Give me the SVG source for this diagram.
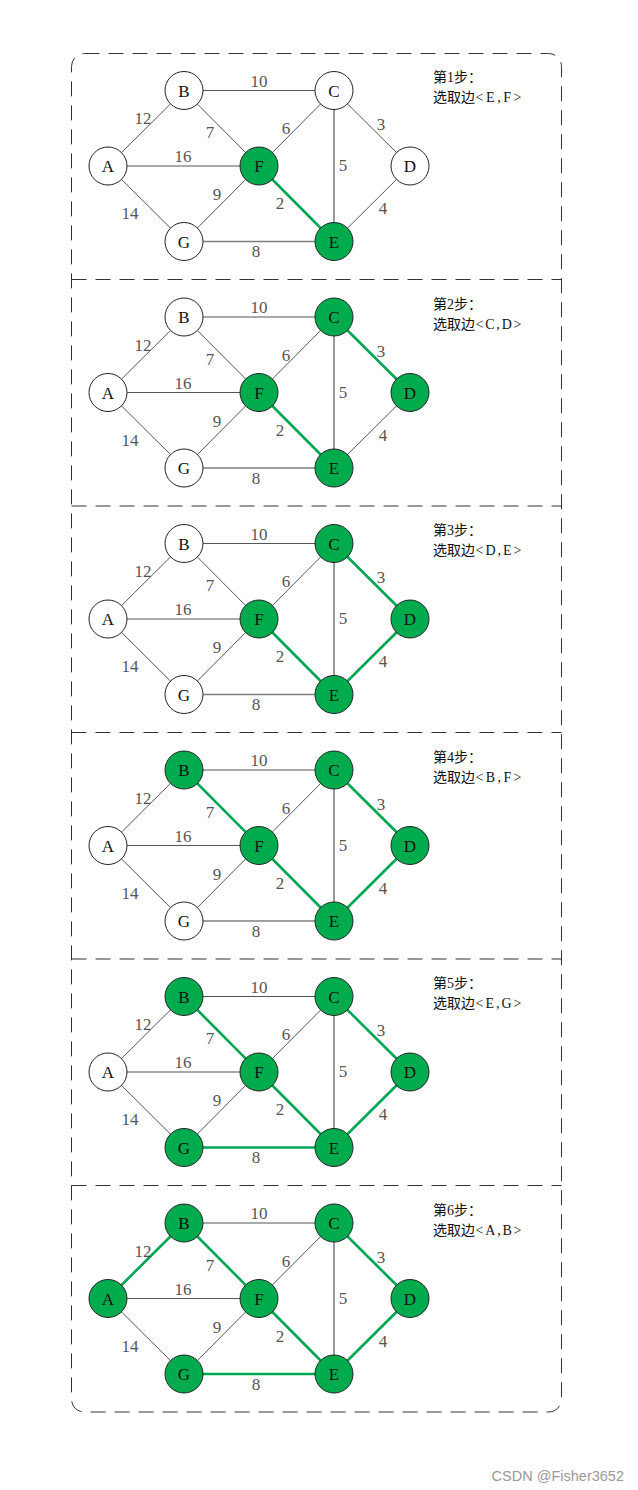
<svg xmlns="http://www.w3.org/2000/svg" width="638" height="1490" viewBox="0 0 638 1490">
<style>
.e{stroke:#555;stroke-width:1;fill:none}
.e2{stroke:#808080;stroke-width:1.6;fill:none}
.g{stroke:#00a651;stroke-width:2.6;fill:none}
.n circle{stroke:#222;stroke-width:1}
.w circle{fill:#fff}
.s circle{fill:#00ab4e}
.n text{font-family:"Liberation Serif",serif;font-size:17px;fill:#111;text-anchor:middle}
.lb{font-family:"Liberation Serif",serif;font-size:17px;fill:#555;text-anchor:middle}
.st{font-family:"Liberation Serif","Noto Sans CJK SC",serif;font-size:14px;fill:#111}
.dash{stroke:#333;stroke-width:1;stroke-dasharray:15 9;fill:none}
</style>
<g id="frame">
<rect class="dash" x="71.5" y="53.5" width="490" height="1358.5" rx="13" ry="13"/>
<line class="dash" x1="71.5" y1="279.5" x2="561.5" y2="279.5"/>
<line class="dash" x1="71.5" y1="506" x2="561.5" y2="506"/>
<line class="dash" x1="71.5" y1="732.5" x2="561.5" y2="732.5"/>
<line class="dash" x1="71.5" y1="959" x2="561.5" y2="959"/>
<line class="dash" x1="71.5" y1="1185.5" x2="561.5" y2="1185.5"/>
</g>

<!-- Panel 1 -->
<g id="panel1">
<g id="p1-connectors">
<line class="e" x1="184" y1="90.5" x2="334" y2="90.5"/>
<line class="e" x1="108" y1="166" x2="184" y2="90.5"/>
<line class="e" x1="184" y1="90.5" x2="259" y2="166"/>
<line class="e" x1="259" y1="166" x2="334" y2="90.5"/>
<line class="e" x1="334" y1="90.5" x2="410" y2="166"/>
<line class="e" x1="108" y1="166" x2="259" y2="166"/>
<line class="e2" x1="334" y1="90.5" x2="334" y2="241.5"/>
<line class="e" x1="184" y1="241.5" x2="259" y2="166"/>
<line class="g" x1="259" y1="166" x2="334" y2="241.5"/>
<line class="e" x1="108" y1="166" x2="184" y2="241.5"/>
<line class="e" x1="410" y1="166" x2="334" y2="241.5"/>
<line class="e2" x1="184" y1="241.5" x2="334" y2="241.5"/>
<text class="lb" x="259" y="86.5">10</text><text class="lb" x="143" y="124">12</text><text class="lb" x="210" y="138">7</text><text class="lb" x="286" y="134">6</text><text class="lb" x="381" y="130">3</text><text class="lb" x="183" y="162">16</text><text class="lb" x="343" y="171">5</text><text class="lb" x="217" y="200">9</text><text class="lb" x="280" y="209">2</text><text class="lb" x="130" y="219">14</text><text class="lb" x="383" y="214">4</text><text class="lb" x="256" y="257">8</text>
</g>
<g id="p1-A" class="n w"><circle cx="108" cy="166" r="19"/><text x="108" y="172">A</text></g>
<g id="p1-B" class="n w"><circle cx="184" cy="90.5" r="19"/><text x="184" y="96.5">B</text></g>
<g id="p1-C" class="n w"><circle cx="334" cy="90.5" r="19"/><text x="334" y="96.5">C</text></g>
<g id="p1-D" class="n w"><circle cx="410" cy="166" r="19"/><text x="410" y="172">D</text></g>
<g id="p1-E" class="n s"><circle cx="334" cy="241.5" r="19"/><text x="334" y="247.5">E</text></g>
<g id="p1-F" class="n s"><circle cx="259" cy="166" r="19"/><text x="259" y="172">F</text></g>
<g id="p1-G" class="n w"><circle cx="184" cy="241.5" r="19"/><text x="184" y="247.5">G</text></g>
<text class="st" x="433" y="82">第1步：</text>
<text class="st" x="433" y="102">选取边</text><text class="st" x="475.5" y="102" textLength="46" lengthAdjust="spacing">&lt;E,F&gt;</text>
</g>

<!-- Panel 2 -->
<g id="panel2" transform="translate(0,226.5)">
<g id="p2-connectors">
<line class="e" x1="184" y1="90.5" x2="334" y2="90.5"/>
<line class="e" x1="108" y1="166" x2="184" y2="90.5"/>
<line class="e" x1="184" y1="90.5" x2="259" y2="166"/>
<line class="e" x1="259" y1="166" x2="334" y2="90.5"/>
<line class="g" x1="334" y1="90.5" x2="410" y2="166"/>
<line class="e" x1="108" y1="166" x2="259" y2="166"/>
<line class="e2" x1="334" y1="90.5" x2="334" y2="241.5"/>
<line class="e" x1="184" y1="241.5" x2="259" y2="166"/>
<line class="g" x1="259" y1="166" x2="334" y2="241.5"/>
<line class="e" x1="108" y1="166" x2="184" y2="241.5"/>
<line class="e" x1="410" y1="166" x2="334" y2="241.5"/>
<line class="e2" x1="184" y1="241.5" x2="334" y2="241.5"/>
<text class="lb" x="259" y="86.5">10</text><text class="lb" x="143" y="124">12</text><text class="lb" x="210" y="138">7</text><text class="lb" x="286" y="134">6</text><text class="lb" x="381" y="130">3</text><text class="lb" x="183" y="162">16</text><text class="lb" x="343" y="171">5</text><text class="lb" x="217" y="200">9</text><text class="lb" x="280" y="209">2</text><text class="lb" x="130" y="219">14</text><text class="lb" x="383" y="214">4</text><text class="lb" x="256" y="257">8</text>
</g>
<g id="p2-A" class="n w"><circle cx="108" cy="166" r="19"/><text x="108" y="172">A</text></g>
<g id="p2-B" class="n w"><circle cx="184" cy="90.5" r="19"/><text x="184" y="96.5">B</text></g>
<g id="p2-C" class="n s"><circle cx="334" cy="90.5" r="19"/><text x="334" y="96.5">C</text></g>
<g id="p2-D" class="n s"><circle cx="410" cy="166" r="19"/><text x="410" y="172">D</text></g>
<g id="p2-E" class="n s"><circle cx="334" cy="241.5" r="19"/><text x="334" y="247.5">E</text></g>
<g id="p2-F" class="n s"><circle cx="259" cy="166" r="19"/><text x="259" y="172">F</text></g>
<g id="p2-G" class="n w"><circle cx="184" cy="241.5" r="19"/><text x="184" y="247.5">G</text></g>
<text class="st" x="433" y="82">第2步：</text>
<text class="st" x="433" y="102">选取边</text><text class="st" x="475.5" y="102" textLength="46" lengthAdjust="spacing">&lt;C,D&gt;</text>
</g>

<!-- Panel 3 -->
<g id="panel3" transform="translate(0,453)">
<g id="p3-connectors">
<line class="e" x1="184" y1="90.5" x2="334" y2="90.5"/>
<line class="e" x1="108" y1="166" x2="184" y2="90.5"/>
<line class="e" x1="184" y1="90.5" x2="259" y2="166"/>
<line class="e" x1="259" y1="166" x2="334" y2="90.5"/>
<line class="g" x1="334" y1="90.5" x2="410" y2="166"/>
<line class="e" x1="108" y1="166" x2="259" y2="166"/>
<line class="e2" x1="334" y1="90.5" x2="334" y2="241.5"/>
<line class="e" x1="184" y1="241.5" x2="259" y2="166"/>
<line class="g" x1="259" y1="166" x2="334" y2="241.5"/>
<line class="e" x1="108" y1="166" x2="184" y2="241.5"/>
<line class="g" x1="410" y1="166" x2="334" y2="241.5"/>
<line class="e2" x1="184" y1="241.5" x2="334" y2="241.5"/>
<text class="lb" x="259" y="86.5">10</text><text class="lb" x="143" y="124">12</text><text class="lb" x="210" y="138">7</text><text class="lb" x="286" y="134">6</text><text class="lb" x="381" y="130">3</text><text class="lb" x="183" y="162">16</text><text class="lb" x="343" y="171">5</text><text class="lb" x="217" y="200">9</text><text class="lb" x="280" y="209">2</text><text class="lb" x="130" y="219">14</text><text class="lb" x="383" y="214">4</text><text class="lb" x="256" y="257">8</text>
</g>
<g id="p3-A" class="n w"><circle cx="108" cy="166" r="19"/><text x="108" y="172">A</text></g>
<g id="p3-B" class="n w"><circle cx="184" cy="90.5" r="19"/><text x="184" y="96.5">B</text></g>
<g id="p3-C" class="n s"><circle cx="334" cy="90.5" r="19"/><text x="334" y="96.5">C</text></g>
<g id="p3-D" class="n s"><circle cx="410" cy="166" r="19"/><text x="410" y="172">D</text></g>
<g id="p3-E" class="n s"><circle cx="334" cy="241.5" r="19"/><text x="334" y="247.5">E</text></g>
<g id="p3-F" class="n s"><circle cx="259" cy="166" r="19"/><text x="259" y="172">F</text></g>
<g id="p3-G" class="n w"><circle cx="184" cy="241.5" r="19"/><text x="184" y="247.5">G</text></g>
<text class="st" x="433" y="82">第3步：</text>
<text class="st" x="433" y="102">选取边</text><text class="st" x="475.5" y="102" textLength="46" lengthAdjust="spacing">&lt;D,E&gt;</text>
</g>

<!-- Panel 4 -->
<g id="panel4" transform="translate(0,679.5)">
<g id="p4-connectors">
<line class="e" x1="184" y1="90.5" x2="334" y2="90.5"/>
<line class="e" x1="108" y1="166" x2="184" y2="90.5"/>
<line class="g" x1="184" y1="90.5" x2="259" y2="166"/>
<line class="e" x1="259" y1="166" x2="334" y2="90.5"/>
<line class="g" x1="334" y1="90.5" x2="410" y2="166"/>
<line class="e" x1="108" y1="166" x2="259" y2="166"/>
<line class="e2" x1="334" y1="90.5" x2="334" y2="241.5"/>
<line class="e" x1="184" y1="241.5" x2="259" y2="166"/>
<line class="g" x1="259" y1="166" x2="334" y2="241.5"/>
<line class="e" x1="108" y1="166" x2="184" y2="241.5"/>
<line class="g" x1="410" y1="166" x2="334" y2="241.5"/>
<line class="e2" x1="184" y1="241.5" x2="334" y2="241.5"/>
<text class="lb" x="259" y="86.5">10</text><text class="lb" x="143" y="124">12</text><text class="lb" x="210" y="138">7</text><text class="lb" x="286" y="134">6</text><text class="lb" x="381" y="130">3</text><text class="lb" x="183" y="162">16</text><text class="lb" x="343" y="171">5</text><text class="lb" x="217" y="200">9</text><text class="lb" x="280" y="209">2</text><text class="lb" x="130" y="219">14</text><text class="lb" x="383" y="214">4</text><text class="lb" x="256" y="257">8</text>
</g>
<g id="p4-A" class="n w"><circle cx="108" cy="166" r="19"/><text x="108" y="172">A</text></g>
<g id="p4-B" class="n s"><circle cx="184" cy="90.5" r="19"/><text x="184" y="96.5">B</text></g>
<g id="p4-C" class="n s"><circle cx="334" cy="90.5" r="19"/><text x="334" y="96.5">C</text></g>
<g id="p4-D" class="n s"><circle cx="410" cy="166" r="19"/><text x="410" y="172">D</text></g>
<g id="p4-E" class="n s"><circle cx="334" cy="241.5" r="19"/><text x="334" y="247.5">E</text></g>
<g id="p4-F" class="n s"><circle cx="259" cy="166" r="19"/><text x="259" y="172">F</text></g>
<g id="p4-G" class="n w"><circle cx="184" cy="241.5" r="19"/><text x="184" y="247.5">G</text></g>
<text class="st" x="433" y="82">第4步：</text>
<text class="st" x="433" y="102">选取边</text><text class="st" x="475.5" y="102" textLength="46" lengthAdjust="spacing">&lt;B,F&gt;</text>
</g>

<!-- Panel 5 -->
<g id="panel5" transform="translate(0,906)">
<g id="p5-connectors">
<line class="e" x1="184" y1="90.5" x2="334" y2="90.5"/>
<line class="e" x1="108" y1="166" x2="184" y2="90.5"/>
<line class="g" x1="184" y1="90.5" x2="259" y2="166"/>
<line class="e" x1="259" y1="166" x2="334" y2="90.5"/>
<line class="g" x1="334" y1="90.5" x2="410" y2="166"/>
<line class="e" x1="108" y1="166" x2="259" y2="166"/>
<line class="e2" x1="334" y1="90.5" x2="334" y2="241.5"/>
<line class="e" x1="184" y1="241.5" x2="259" y2="166"/>
<line class="g" x1="259" y1="166" x2="334" y2="241.5"/>
<line class="e" x1="108" y1="166" x2="184" y2="241.5"/>
<line class="g" x1="410" y1="166" x2="334" y2="241.5"/>
<line class="g" x1="184" y1="241.5" x2="334" y2="241.5"/>
<text class="lb" x="259" y="86.5">10</text><text class="lb" x="143" y="124">12</text><text class="lb" x="210" y="138">7</text><text class="lb" x="286" y="134">6</text><text class="lb" x="381" y="130">3</text><text class="lb" x="183" y="162">16</text><text class="lb" x="343" y="171">5</text><text class="lb" x="217" y="200">9</text><text class="lb" x="280" y="209">2</text><text class="lb" x="130" y="219">14</text><text class="lb" x="383" y="214">4</text><text class="lb" x="256" y="257">8</text>
</g>
<g id="p5-A" class="n w"><circle cx="108" cy="166" r="19"/><text x="108" y="172">A</text></g>
<g id="p5-B" class="n s"><circle cx="184" cy="90.5" r="19"/><text x="184" y="96.5">B</text></g>
<g id="p5-C" class="n s"><circle cx="334" cy="90.5" r="19"/><text x="334" y="96.5">C</text></g>
<g id="p5-D" class="n s"><circle cx="410" cy="166" r="19"/><text x="410" y="172">D</text></g>
<g id="p5-E" class="n s"><circle cx="334" cy="241.5" r="19"/><text x="334" y="247.5">E</text></g>
<g id="p5-F" class="n s"><circle cx="259" cy="166" r="19"/><text x="259" y="172">F</text></g>
<g id="p5-G" class="n s"><circle cx="184" cy="241.5" r="19"/><text x="184" y="247.5">G</text></g>
<text class="st" x="433" y="82">第5步：</text>
<text class="st" x="433" y="102">选取边</text><text class="st" x="475.5" y="102" textLength="46" lengthAdjust="spacing">&lt;E,G&gt;</text>
</g>

<!-- Panel 6 -->
<g id="panel6" transform="translate(0,1132.5)">
<g id="p6-connectors">
<line class="e" x1="184" y1="90.5" x2="334" y2="90.5"/>
<line class="g" x1="108" y1="166" x2="184" y2="90.5"/>
<line class="g" x1="184" y1="90.5" x2="259" y2="166"/>
<line class="e" x1="259" y1="166" x2="334" y2="90.5"/>
<line class="g" x1="334" y1="90.5" x2="410" y2="166"/>
<line class="e" x1="108" y1="166" x2="259" y2="166"/>
<line class="e2" x1="334" y1="90.5" x2="334" y2="241.5"/>
<line class="e" x1="184" y1="241.5" x2="259" y2="166"/>
<line class="g" x1="259" y1="166" x2="334" y2="241.5"/>
<line class="e" x1="108" y1="166" x2="184" y2="241.5"/>
<line class="g" x1="410" y1="166" x2="334" y2="241.5"/>
<line class="g" x1="184" y1="241.5" x2="334" y2="241.5"/>
<text class="lb" x="259" y="86.5">10</text><text class="lb" x="143" y="124">12</text><text class="lb" x="210" y="138">7</text><text class="lb" x="286" y="134">6</text><text class="lb" x="381" y="130">3</text><text class="lb" x="183" y="162">16</text><text class="lb" x="343" y="171">5</text><text class="lb" x="217" y="200">9</text><text class="lb" x="280" y="209">2</text><text class="lb" x="130" y="219">14</text><text class="lb" x="383" y="214">4</text><text class="lb" x="256" y="257">8</text>
</g>
<g id="p6-A" class="n s"><circle cx="108" cy="166" r="19"/><text x="108" y="172">A</text></g>
<g id="p6-B" class="n s"><circle cx="184" cy="90.5" r="19"/><text x="184" y="96.5">B</text></g>
<g id="p6-C" class="n s"><circle cx="334" cy="90.5" r="19"/><text x="334" y="96.5">C</text></g>
<g id="p6-D" class="n s"><circle cx="410" cy="166" r="19"/><text x="410" y="172">D</text></g>
<g id="p6-E" class="n s"><circle cx="334" cy="241.5" r="19"/><text x="334" y="247.5">E</text></g>
<g id="p6-F" class="n s"><circle cx="259" cy="166" r="19"/><text x="259" y="172">F</text></g>
<g id="p6-G" class="n s"><circle cx="184" cy="241.5" r="19"/><text x="184" y="247.5">G</text></g>
<text class="st" x="433" y="82">第6步：</text>
<text class="st" x="433" y="102">选取边</text><text class="st" x="475.5" y="102" textLength="46" lengthAdjust="spacing">&lt;A,B&gt;</text>
</g>

<text x="624" y="1481" style="font-family:'Liberation Sans',Arial,sans-serif;font-size:14.5px;fill:#9a9a9a;text-anchor:end">CSDN @Fisher3652</text>
</svg>
